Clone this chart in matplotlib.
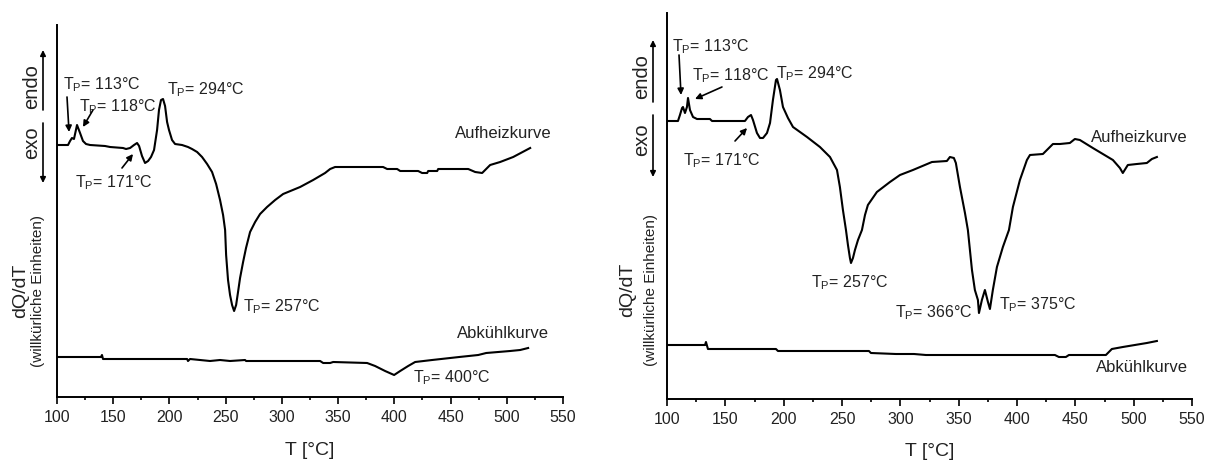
import numpy as np
import matplotlib.pyplot as plt
from matplotlib.patches import FancyArrowPatch

plt.rcParams['font.family'] = ['Liberation Sans', 'DejaVu Sans']
plt.rcParams['mathtext.fontset'] = 'custom'
plt.rcParams['mathtext.rm'] = 'Liberation Sans'

# ---- data: left sample ----
left_heat_T = [100.0, 109.8, 111.6, 113.3, 115.1, 117.8, 120.5, 123.1, 125.8, 129.4, 142.7, 147.2,
               158.7, 161.4, 165.0, 168.5, 171.2, 173.0, 175.6, 178.3, 181.0, 183.6, 186.3, 189.0,
               190.7, 192.5, 194.3, 196.1, 197.9, 199.6, 202.3, 205.0, 211.2, 216.5, 220.1, 224.6,
               229.0, 233.5, 237.9, 241.5, 245.0, 247.7, 249.5, 250.4, 252.1, 253.9, 255.7, 257.5,
               259.3, 261.0, 262.8, 265.5, 268.1, 271.7, 276.2, 280.6, 286.8, 294.0, 301.1, 316.2,
               327.8, 338.4, 342.9, 347.3, 390.0, 393.6, 402.5, 405.2, 421.2, 424.7, 429.2, 430.1,
               438.1, 439.0, 465.7, 471.9, 478.1, 485.2, 494.1, 505.7, 520.8]
left_heat_Q = [25.2, 25.2, 25.6, 25.9, 25.8, 27.2, 26.4, 25.6, 25.3, 25.2, 25.1, 25.0,
               24.9, 24.8, 24.9, 25.2, 25.4, 25.1, 24.1, 23.4, 23.6, 24.0, 24.7, 26.7,
               28.7, 29.7, 29.8, 29.1, 27.5, 26.7, 25.7, 25.3, 25.2, 25.0, 24.8, 24.5,
               24.0, 23.3, 22.5, 21.3, 19.7, 18.2, 16.7, 14.2, 11.7, 10.2, 9.2, 8.6,
               9.2, 10.5, 11.9, 13.5, 14.9, 16.5, 17.5, 18.3, 19.0, 19.7, 20.3, 21.0,
               21.7, 22.4, 22.8, 23.0, 23.0, 22.8, 22.8, 22.6, 22.6, 22.4, 22.4, 22.6,
               22.6, 22.8, 22.8, 22.5, 22.4, 23.2, 23.5, 24.0, 24.9]

left_cool_T = [100.0, 139.1, 140.0, 140.9, 215.7, 216.5, 218.3, 227.2, 236.1, 245.0, 253.9, 267.3,
               268.1, 334.0, 336.7, 342.9, 345.6, 375.8, 382.9, 391.8, 399.8, 405.2, 412.3, 418.5,
               433.6, 457.7, 474.6, 481.7, 503.0, 511.9, 519.0]
left_cool_Q = [4.0, 4.0, 4.2, 3.8, 3.8, 3.6, 3.8, 3.7, 3.6, 3.7, 3.6, 3.7,
               3.6, 3.6, 3.4, 3.4, 3.5, 3.4, 3.1, 2.6, 2.2, 2.6, 3.1, 3.5,
               3.7, 4.0, 4.2, 4.4, 4.6, 4.7, 4.9]

# ---- data: right sample ----
right_heat_T = [100.9, 109.4, 111.1, 112.9, 113.7, 115.4, 117.1, 118.0, 119.7, 122.3, 125.7, 136.8,
                138.6, 166.8, 169.4, 172.0, 173.7, 177.1, 179.7, 182.3, 185.7, 188.3, 190.8, 193.4,
                194.3, 196.8, 199.4, 203.7, 208.0, 220.0, 231.1, 239.7, 245.7, 248.2, 250.8, 253.4,
                255.1, 256.8, 257.7, 259.4, 261.1, 263.7, 267.1, 269.7, 272.2, 279.9, 291.1, 299.7,
                310.8, 327.1, 339.9, 342.5, 345.9, 347.6, 351.1, 355.4, 357.9, 361.4, 363.9, 366.5,
                367.4, 369.9, 372.5, 375.1, 376.8, 379.3, 382.8, 387.9, 393.1, 396.5, 402.5, 408.5,
                411.1, 422.2, 430.8, 436.8, 445.3, 449.6, 453.9, 465.0, 482.2, 488.2, 490.7, 495.0,
                502.7, 511.3, 515.6, 519.9]
right_heat_Q = [27.8, 27.8, 28.4, 29.1, 29.2, 28.6, 29.2, 30.1, 28.9, 28.2, 28.0, 28.0,
                27.8, 27.8, 28.2, 28.4, 27.9, 26.6, 26.1, 26.1, 26.6, 27.6, 29.9, 31.9,
                32.0, 30.9, 29.2, 28.1, 27.2, 26.2, 25.2, 24.2, 22.9, 21.2, 18.9, 16.9,
                15.4, 14.1, 13.6, 14.1, 14.9, 15.9, 16.9, 18.4, 19.4, 20.7, 21.7, 22.4,
                22.9, 23.7, 23.8, 24.2, 24.1, 23.6, 21.2, 18.6, 16.9, 12.9, 10.9, 9.9,
                8.6, 9.9, 10.9, 9.7, 9.0, 10.9, 13.2, 15.2, 16.9, 19.2, 21.9, 23.9,
                24.4, 24.5, 25.5, 25.5, 25.6, 26.0, 25.9, 25.1, 23.9, 23.1, 22.6, 23.4,
                23.5, 23.6, 24.0, 24.2]

right_cool_T = [100.9, 132.6, 133.4, 135.1, 193.4, 195.1, 273.1, 274.8, 296.2, 311.7, 321.9, 432.5,
                435.9, 441.9, 444.5, 476.2, 477.9, 481.3, 490.7, 501.0, 511.3, 519.9]
right_cool_Q = [5.4, 5.4, 5.7, 5.0, 5.0, 4.8, 4.8, 4.6, 4.5, 4.5, 4.4, 4.4,
                4.2, 4.2, 4.4, 4.4, 4.6, 5.0, 5.2, 5.4, 5.6, 5.8]

x_ticks = [100, 150, 200, 250, 300, 350, 400, 450, 500, 550]

W, H = 1207, 461
fig = plt.figure(figsize=(W / 100, H / 100), dpi=100)


def fpx(x, y):
    # pixel position -> figure fraction
    return x / W, 1 - y / H


def setup(ax, ytop):
    ax.set_xlim(100, 550)
    ax.set_ylim(0, ytop)
    ax.set_xticks(x_ticks)
    ax.set_xticks(np.arange(125, 550, 50), minor=True)
    ax.set_yticks([])
    for s in ['top', 'right']:
        ax.spines[s].set_visible(False)
    for s in ['left', 'bottom']:
        ax.spines[s].set_linewidth(1.4)
    ax.tick_params(axis='x', which='major', direction='out', length=5, width=1.2,
                   labelsize=11.5, pad=4, labelcolor='#222222')
    ax.tick_params(axis='x', which='minor', direction='out', length=2.5, width=1.2)


def tp(ax, text, x, y):
    ax.text(x, y, text, fontsize=11.5, ha='left', va='center', color='#222222')


def arrow(ax, x0, y0, x1, y1):
    ax.annotate('', xy=(x1, y1), xytext=(x0, y0),
                arrowprops=dict(arrowstyle='-|>', color='black', lw=1.2,
                                mutation_scale=9, shrinkA=0, shrinkB=0))


def side_labels(xline, y_up0, y_up1, y_lo0, y_lo1, xtxt, y_endo, y_exo, xq, xw, ylab):
    for (ya, yb) in [(y_up0, y_up1), (y_lo0, y_lo1)]:
        fig.add_artist(FancyArrowPatch(
            fpx(xline, ya), fpx(xline, yb), transform=fig.transFigure,
            arrowstyle='-|>', mutation_scale=8, lw=1.2, color='black',
            shrinkA=0, shrinkB=0))
    fig.text(*fpx(xtxt, y_endo), 'endo', rotation=90, fontsize=14.5, ha='center', va='center',
             color='#222222')
    fig.text(*fpx(xtxt, y_exo), 'exo', rotation=90, fontsize=14.5, ha='center', va='center',
             color='#222222')
    fig.text(*fpx(xq, ylab), 'dQ/dT', rotation=90, fontsize=14, ha='center', va='center',
             color='#222222')
    fig.text(*fpx(xw, ylab), '(willkürliche Einheiten)', rotation=90, fontsize=11,
             ha='center', va='center', color='#222222')


# ---- left panel ----
ax1 = fig.add_axes([57 / W, 1 - 397 / H, 506 / W, 372 / H])
setup(ax1, 37.2)
ax1.plot(left_heat_T, left_heat_Q, color='black', lw=1.5)
ax1.plot(left_cool_T, left_cool_Q, color='black', lw=1.5)
tp(ax1, r'T$_\mathrm{P}$= 113°C', 105.3, 31.2)
tp(ax1, r'T$_\mathrm{P}$= 118°C', 119.6, 29.0)
tp(ax1, r'T$_\mathrm{P}$= 294°C', 197.9, 30.7)
tp(ax1, r'T$_\mathrm{P}$= 171°C', 116.0, 21.4)
tp(ax1, r'T$_\mathrm{P}$= 257°C', 265.5, 9.0)
tp(ax1, r'T$_\mathrm{P}$= 400°C', 416.2, 1.9)
arrow(ax1, 108.9, 30.0, 110.7, 26.5)
arrow(ax1, 132.0, 28.7, 123.1, 27.0)
arrow(ax1, 157.8, 22.9, 167.6, 24.3)
ax1.text(496.8, 26.4, 'Aufheizkurve', fontsize=12, ha='center', va='center', color='#222222')
ax1.text(496.8, 6.4, 'Abkühlkurve', fontsize=12, ha='center', va='center', color='#222222')
ax1.set_xlabel('T [°C]', fontsize=14, color='#222222')
ax1.xaxis.set_label_coords(0.5, -0.12)
side_labels(43, 110, 50, 123, 183, 32, 87, 143, 21, 38, 291)

# ---- right panel ----
ax2 = fig.add_axes([667 / W, 1 - 399 / H, 525 / W, 386 / H])
setup(ax2, 38.6)
ax2.plot(right_heat_T, right_heat_Q, color='black', lw=1.5)
ax2.plot(right_cool_T, right_cool_Q, color='black', lw=1.5)
tp(ax2, r'T$_\mathrm{P}$= 113°C', 104.3, 35.2)
tp(ax2, r'T$_\mathrm{P}$= 118°C', 121.4, 32.3)
tp(ax2, r'T$_\mathrm{P}$= 294°C', 193.4, 32.5)
tp(ax2, r'T$_\mathrm{P}$= 171°C', 113.7, 23.8)
tp(ax2, r'T$_\mathrm{P}$= 257°C', 223.4, 11.6)
tp(ax2, r'T$_\mathrm{P}$= 366°C', 295.4, 8.6)
tp(ax2, r'T$_\mathrm{P}$= 375°C', 384.5, 9.4)
arrow(ax2, 110.3, 34.4, 112.0, 30.4)
arrow(ax2, 147.1, 31.2, 124.0, 30.0)
arrow(ax2, 158.3, 25.8, 168.6, 27.1)
ax2.text(504.4, 26.2, 'Aufheizkurve', fontsize=12, ha='center', va='center', color='#222222')
ax2.text(507.0, 3.1, 'Abkühlkurve', fontsize=12, ha='center', va='center', color='#222222')
ax2.set_xlabel('T [°C]', fontsize=14, color='#222222')
ax2.xaxis.set_label_coords(0.5, -0.115)
side_labels(653, 102, 40, 115, 177, 642, 77, 140, 628, 651, 290)

fig.savefig('out.png', dpi=100)
